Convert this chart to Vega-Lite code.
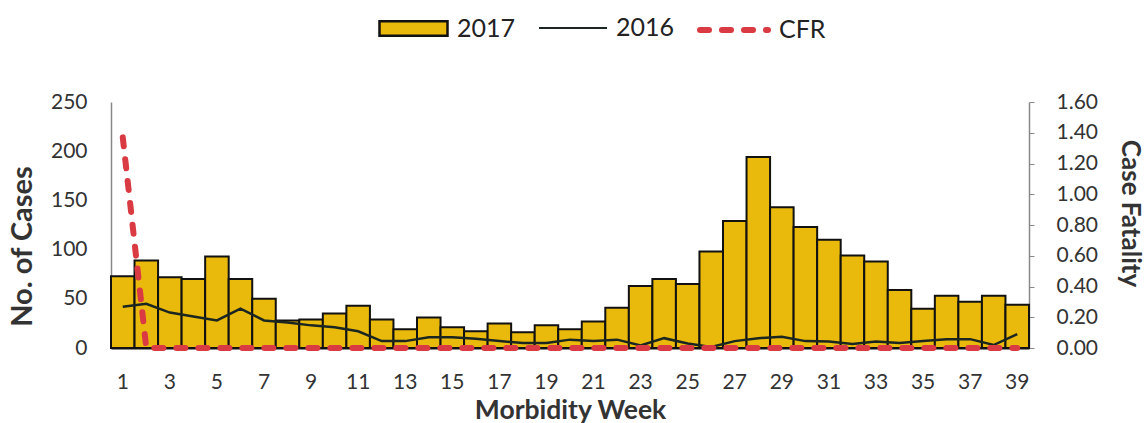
{
  "$schema": "https://vega.github.io/schema/vega-lite/v6.json",
  "width": 918,
  "height": 246,
  "autosize": "none",
  "padding": {"left": 111, "top": 102, "right": 118, "bottom": 75},
  "background": "white",
  "config": {
    "view": {"stroke": null},
    "axis": {"grid": false, "labelFont": "Lato", "titleFont": "Lato", "labelColor": "#333", "titleColor": "#333"},
    "legend": {"labelFont": "Lato", "labelFontSize": 25, "labelColor": "#222", "symbolSize": 4624, "labelOffset": 8, "orient": "none", "direction": "horizontal", "title": null, "symbolOpacity": 1}
  },
  "data": {
    "values": [
      {"week": 1, "cases2017": 73, "cases2016": 42, "cfr": 1.37},
      {"week": 2, "cases2017": 89, "cases2016": 45, "cfr": 0},
      {"week": 3, "cases2017": 72, "cases2016": 36, "cfr": 0},
      {"week": 4, "cases2017": 70, "cases2016": 32, "cfr": 0},
      {"week": 5, "cases2017": 93, "cases2016": 28, "cfr": 0},
      {"week": 6, "cases2017": 70, "cases2016": 40, "cfr": 0},
      {"week": 7, "cases2017": 50, "cases2016": 28, "cfr": 0},
      {"week": 8, "cases2017": 28, "cases2016": 26, "cfr": 0},
      {"week": 9, "cases2017": 29, "cases2016": 23, "cfr": 0},
      {"week": 10, "cases2017": 35, "cases2016": 21, "cfr": 0},
      {"week": 11, "cases2017": 43, "cases2016": 17, "cfr": 0},
      {"week": 12, "cases2017": 29, "cases2016": 7, "cfr": 0},
      {"week": 13, "cases2017": 19, "cases2016": 7, "cfr": 0},
      {"week": 14, "cases2017": 31, "cases2016": 11, "cfr": 0},
      {"week": 15, "cases2017": 21, "cases2016": 11, "cfr": 0},
      {"week": 16, "cases2017": 17, "cases2016": 9.5, "cfr": 0},
      {"week": 17, "cases2017": 25, "cases2016": 7, "cfr": 0},
      {"week": 18, "cases2017": 16, "cases2016": 5, "cfr": 0},
      {"week": 19, "cases2017": 23, "cases2016": 5, "cfr": 0},
      {"week": 20, "cases2017": 19, "cases2016": 8.5, "cfr": 0},
      {"week": 21, "cases2017": 27, "cases2016": 7, "cfr": 0},
      {"week": 22, "cases2017": 41, "cases2016": 8.5, "cfr": 0},
      {"week": 23, "cases2017": 63, "cases2016": 2.5, "cfr": 0},
      {"week": 24, "cases2017": 70, "cases2016": 10, "cfr": 0},
      {"week": 25, "cases2017": 65, "cases2016": 4.5, "cfr": 0},
      {"week": 26, "cases2017": 98, "cases2016": 1, "cfr": 0},
      {"week": 27, "cases2017": 129, "cases2016": 7, "cfr": 0},
      {"week": 28, "cases2017": 194, "cases2016": 10, "cfr": 0},
      {"week": 29, "cases2017": 143, "cases2016": 11.5, "cfr": 0},
      {"week": 30, "cases2017": 123, "cases2016": 7, "cfr": 0},
      {"week": 31, "cases2017": 110, "cases2016": 6.5, "cfr": 0},
      {"week": 32, "cases2017": 94, "cases2016": 4, "cfr": 0},
      {"week": 33, "cases2017": 88, "cases2016": 6.5, "cfr": 0},
      {"week": 34, "cases2017": 59, "cases2016": 5, "cfr": 0},
      {"week": 35, "cases2017": 40, "cases2016": 7, "cfr": 0},
      {"week": 36, "cases2017": 53, "cases2016": 9, "cfr": 0},
      {"week": 37, "cases2017": 47, "cases2016": 9, "cfr": 0},
      {"week": 38, "cases2017": 53, "cases2016": 3, "cfr": 0},
      {"week": 39, "cases2017": 44, "cases2016": 14, "cfr": 0}
    ]
  },
  "encoding": {
    "x": {
      "field": "week",
      "type": "ordinal",
      "scale": {"paddingInner": 0, "paddingOuter": 0},
      "axis": {
        "labelExpr": "datum.value % 2 === 1 ? datum.label : ''",
        "labelOverlap": false,
        "labelAngle": 0,
        "ticks": false,
        "domainColor": "#111",
        "domainWidth": 2,
        "labelFontSize": 21,
        "labelPadding": 23,
        "title": "Morbidity Week",
        "titleFontSize": 26.5,
        "titleFontWeight": "bold",
        "titlePadding": 5
      }
    }
  },
  "layer": [
    {
      "layer": [
        {
          "mark": {"type": "bar", "stroke": "#111", "strokeWidth": 2},
          "encoding": {
            "y": {
              "field": "cases2017",
              "type": "quantitative",
              "title": "No. of Cases",
              "scale": {"domain": [0, 250], "nice": false},
              "axis": {
                "values": [0, 50, 100, 150, 200, 250],
                "ticks": false,
                "domainColor": "#888",
                "domainWidth": 1.5,
                "labelFontSize": 21,
                "labelPadding": 24,
                "titleFontSize": 29,
                "titleFontWeight": "bold",
                "titleX": -89,
                "titleY": 144,
                "titleBaseline": "middle"
              }
            },
            "fill": {
              "datum": "2017",
              "scale": {"domain": ["2017"], "range": ["#E9BA0B"]},
              "legend": {
                "legendX": 267,
                "legendY": -109,
                "symbolType": "M-1,-0.21H1V0.21H-1Z",
                "symbolStrokeColor": "#111",
                "symbolStrokeWidth": 2.5
              }
            }
          }
        },
        {
          "mark": {"type": "line", "strokeWidth": 2.5},
          "encoding": {
            "y": {"field": "cases2016", "type": "quantitative", "title": "No. of Cases"},
            "stroke": {
              "datum": "2016",
              "scale": {"domain": ["2016"], "range": ["#1B2620"]},
              "legend": {
                "legendX": 427,
                "legendY": -109,
                "symbolType": "stroke",
                "symbolStrokeColor": "#1F2E3C",
                "symbolStrokeWidth": 2
              }
            }
          }
        }
      ]
    },
    {
      "mark": {"type": "line", "color": "#DA3A42", "strokeWidth": 6, "strokeCap": "round"},
      "encoding": {
        "y": {
          "field": "cfr",
          "type": "quantitative",
          "title": "Case Fatality",
          "scale": {"domain": [0, 1.6], "nice": false},
          "axis": {
            "orient": "right",
            "values": [0, 0.2, 0.4, 0.6, 0.8, 1.0, 1.2, 1.4, 1.6],
            "format": ".2f",
            "tickSize": 5,
            "tickColor": "#888",
            "domainColor": "#888",
            "domainWidth": 1.5,
            "labelFontSize": 21,
            "labelPadding": 22,
            "titleFontSize": 26,
            "titleFontWeight": "bold",
            "titleX": 100,
            "titleY": 111,
            "titleBaseline": "middle"
          }
        },
        "strokeDash": {
          "datum": "CFR",
          "scale": {"domain": ["CFR"], "range": [[9, 13]]},
          "legend": {
            "legendX": 586,
            "legendY": -109,
            "symbolType": "stroke",
            "symbolStrokeColor": "#DA3A42",
            "symbolStrokeWidth": 6,
            "encode": {"symbols": {"update": {"strokeCap": {"value": "round"}}}}
          }
        }
      }
    }
  ],
  "resolve": {"scale": {"y": "independent"}}
}
